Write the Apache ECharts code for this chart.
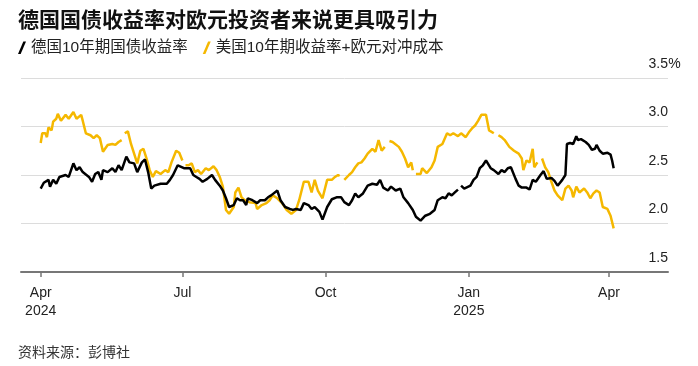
<!DOCTYPE html>
<html><head><meta charset="utf-8">
<script src="https://cdn.jsdelivr.net/npm/echarts@6/dist/echarts.min.js"></script>
<style>html,body{margin:0;padding:0;background:#fff}#c{width:698px;height:366px}</style>
</head><body><div id="c"></div>
<script>
const chartTitle = '德国国债收益率对欧元投资者来说更具吸引力';
const sourceText = '资料来源：彭博社';
const seriesNames = ['德国10年期国债收益率', '美国10年期收益率+欧元对冲成本'];

const germanDates = ['2024-04-01','2024-04-03','2024-04-06','2024-04-07','2024-04-09','2024-04-11','2024-04-13','2024-04-17','2024-04-19','2024-04-22','2024-04-24','2024-04-26','2024-04-28','2024-05-02','2024-05-04','2024-05-06','2024-05-08','2024-05-10','2024-05-11','2024-05-14','2024-05-17','2024-05-19','2024-05-21','2024-05-23','2024-05-26','2024-05-28','2024-05-31','2024-06-02','2024-06-05','2024-06-07','2024-06-09','2024-06-11','2024-06-13','2024-06-17','2024-06-21','2024-06-23','2024-06-25','2024-06-28','2024-07-02','2024-07-04','2024-07-06','2024-07-08','2024-07-10','2024-07-12','2024-07-14','2024-07-17','2024-07-20','2024-07-22','2024-07-25','2024-07-27','2024-07-29','2024-07-31','2024-08-03','2024-08-05','2024-08-07','2024-08-09','2024-08-11','2024-08-12','2024-08-15','2024-08-18','2024-08-20','2024-08-23','2024-08-25','2024-08-27','2024-08-31','2024-09-02','2024-09-05','2024-09-08','2024-09-10','2024-09-12','2024-09-15','2024-09-17','2024-09-20','2024-09-22','2024-09-24','2024-09-27','2024-09-29','2024-10-02','2024-10-05','2024-10-08','2024-10-11','2024-10-13','2024-10-16','2024-10-18','2024-10-20','2024-10-22','2024-10-25','2024-10-28','2024-10-31','2024-11-03','2024-11-05','2024-11-07','2024-11-10','2024-11-12','2024-11-15','2024-11-18','2024-11-20','2024-11-23','2024-11-26','2024-11-28','2024-12-01','2024-12-04','2024-12-07','2024-12-10','2024-12-12','2024-12-15','2024-12-17','2024-12-19','2024-12-21','2024-12-23','2024-12-25','2024-12-26','2024-12-27','2024-12-29','2025-01-02','2025-01-04','2025-01-06','2025-01-08','2025-01-10','2025-01-12','2025-01-15','2025-01-17','2025-01-20','2025-01-22','2025-01-24','2025-01-26','2025-01-28','2025-01-31','2025-02-02','2025-02-04','2025-02-07','2025-02-09','2025-02-11','2025-02-13','2025-02-16','2025-02-18','2025-02-20','2025-02-23','2025-02-25','2025-02-27','2025-03-02','2025-03-04','2025-03-05','2025-03-07','2025-03-09','2025-03-11','2025-03-12','2025-03-14','2025-03-17','2025-03-19','2025-03-21','2025-03-23','2025-03-24','2025-03-26','2025-03-28','2025-03-31','2025-04-02','2025-04-03','2025-04-04'];
const germanYields = [2.36,2.42,2.45,2.38,2.45,2.41,2.48,2.50,2.48,2.62,2.55,2.58,2.53,2.48,2.43,2.51,2.53,2.45,2.55,2.53,2.57,2.53,2.60,2.55,2.69,2.63,2.62,2.53,2.63,2.66,2.53,2.36,2.39,2.41,2.41,2.45,2.50,2.60,2.57,2.57,2.57,2.50,2.48,2.46,2.43,2.46,2.50,2.45,2.39,2.34,2.26,2.17,2.19,2.26,2.24,2.24,2.19,2.26,2.24,2.21,2.24,2.24,2.27,2.29,2.34,2.24,2.17,2.15,2.14,2.15,2.14,2.21,2.19,2.15,2.17,2.12,2.04,2.17,2.25,2.27,2.27,2.22,2.19,2.24,2.31,2.27,2.31,2.39,2.41,2.40,2.45,2.37,2.34,2.38,2.34,2.36,2.27,2.21,2.14,2.07,2.03,2.08,2.10,2.14,2.24,2.27,2.26,2.31,2.29,2.32,2.35,null,2.39,2.36,2.39,2.45,2.48,2.57,2.60,2.65,2.57,2.55,2.51,2.55,2.53,2.57,2.58,2.46,2.39,2.37,2.37,2.35,2.45,2.43,2.50,2.54,2.46,2.47,2.44,2.39,2.45,2.50,2.82,2.83,2.82,2.90,2.86,2.87,2.84,2.81,2.76,2.77,2.81,2.75,2.72,2.73,2.71,2.65,2.57];

const usDates = ['2024-04-01','2024-04-02','2024-04-04','2024-04-05','2024-04-06','2024-04-08','2024-04-09','2024-04-11','2024-04-12','2024-04-14','2024-04-17','2024-04-19','2024-04-22','2024-04-24','2024-04-27','2024-04-28','2024-04-30','2024-05-03','2024-05-05','2024-05-07','2024-05-09','2024-05-11','2024-05-14','2024-05-17','2024-05-19','2024-05-21','2024-05-23','2024-05-24','2024-05-25','2024-05-27','2024-05-29','2024-05-31','2024-06-02','2024-06-04','2024-06-06','2024-06-08','2024-06-10','2024-06-12','2024-06-14','2024-06-17','2024-06-20','2024-06-22','2024-06-24','2024-06-27','2024-06-29','2024-07-01','2024-07-02','2024-07-03','2024-07-05','2024-07-07','2024-07-09','2024-07-11','2024-07-13','2024-07-16','2024-07-18','2024-07-21','2024-07-23','2024-07-25','2024-07-27','2024-07-29','2024-07-31','2024-08-03','2024-08-04','2024-08-06','2024-08-08','2024-08-10','2024-08-13','2024-08-17','2024-08-18','2024-08-21','2024-08-24','2024-08-26','2024-08-28','2024-08-31','2024-09-03','2024-09-06','2024-09-09','2024-09-12','2024-09-14','2024-09-17','2024-09-20','2024-09-22','2024-09-24','2024-09-26','2024-09-29','2024-10-02','2024-10-05','2024-10-07','2024-10-09','2024-10-10','2024-10-12','2024-10-13','2024-10-16','2024-10-18','2024-10-20','2024-10-22','2024-10-24','2024-10-26','2024-10-28','2024-10-31','2024-11-02','2024-11-04','2024-11-06','2024-11-08','2024-11-10','2024-11-11','2024-11-13','2024-11-17','2024-11-19','2024-11-21','2024-11-23','2024-11-25','2024-11-26','2024-11-27','2024-11-28','2024-12-01','2024-12-02','2024-12-05','2024-12-08','2024-12-10','2024-12-12','2024-12-15','2024-12-18','2024-12-20','2024-12-22','2024-12-25','2024-12-27','2024-12-30','2025-01-01','2025-01-03','2025-01-05','2025-01-07','2025-01-09','2025-01-12','2025-01-14','2025-01-17','2025-01-19','2025-01-20','2025-01-22','2025-01-24','2025-01-27','2025-01-30','2025-02-02','2025-02-04','2025-02-05','2025-02-07','2025-02-09','2025-02-11','2025-02-12','2025-02-14','2025-02-16','2025-02-17','2025-02-19','2025-02-21','2025-02-23','2025-02-25','2025-02-27','2025-03-02','2025-03-04','2025-03-06','2025-03-08','2025-03-09','2025-03-11','2025-03-13','2025-03-16','2025-03-18','2025-03-20','2025-03-22','2025-03-24','2025-03-26','2025-03-28','2025-03-31','2025-04-02','2025-04-04'];
const usHedgedYields = [2.83,2.93,2.93,2.89,2.99,2.96,3.05,3.08,3.13,3.06,3.12,3.08,3.15,3.08,3.12,3.06,2.93,2.91,2.88,2.91,2.88,2.74,2.81,2.82,2.81,2.84,2.86,null,2.93,2.95,2.82,2.72,2.62,2.75,2.77,2.67,2.55,2.48,2.54,2.51,2.55,2.53,2.63,2.75,2.73,2.65,null,2.60,2.60,2.62,2.53,2.55,2.51,2.57,2.55,2.59,2.55,2.48,2.38,2.14,2.10,2.17,2.32,2.37,2.27,2.24,2.22,2.21,2.15,2.19,2.21,2.24,2.29,2.26,2.21,2.14,2.10,2.14,2.24,2.43,2.43,2.32,2.45,2.34,2.26,2.45,2.45,2.48,2.50,2.49,null,2.45,2.50,2.53,2.58,2.62,2.63,2.67,2.72,2.77,2.74,2.86,2.75,2.79,null,2.85,2.84,2.79,2.74,2.67,2.58,2.63,2.55,null,2.51,2.51,2.57,2.52,2.58,2.65,2.79,2.82,2.93,2.91,2.93,2.90,2.93,2.89,2.94,2.98,3.01,3.06,3.12,3.12,2.96,2.93,null,2.91,2.89,2.86,2.79,2.75,2.72,2.67,2.55,2.65,2.63,2.77,2.58,2.63,null,2.67,2.58,2.53,2.43,2.34,2.29,2.24,2.36,2.39,2.34,2.27,2.38,2.32,2.36,2.32,2.26,2.31,2.34,2.32,2.17,2.15,2.08,1.95];

const xTickDates = ['2024-04-01','2024-07-01','2024-10-01','2025-01-01','2025-04-01'];
const xTickLabels = ['Apr\n2024','Jul','Oct','Jan\n2025','Apr'];
const yTickValues = [1.5, 2.0, 2.5, 3.0, 3.5];

const DAY = 86400000;
function toTime(s) { const p = s.split('-').map(Number); return new Date(p[0], p[1] - 1, p[2]).getTime(); }
const tickTimes = xTickDates.map(toTime);
const base = tickTimes[0];
const FONT = "'Liberation Sans', 'Noto Sans CJK SC', sans-serif";
const SLASH = 'path://M6,0 L9,0 L3,14 L0,14 Z';

const chart = echarts.init(document.getElementById('c'), null, { renderer: 'canvas' });
chart.setOption({
  animation: false,
  backgroundColor: '#fff',
  title: [
    { text: chartTitle, left: 13, top: 6, textStyle: { fontFamily: FONT, fontSize: 21, fontWeight: 'bold', color: '#111' } },
    { text: sourceText, left: 13, top: 341, textStyle: { fontFamily: FONT, fontSize: 14, fontWeight: 'normal', color: '#333' } }
  ],
  legend: {
    left: 13, top: 35, itemWidth: 8, itemHeight: 14, itemGap: 15,
    textStyle: { fontFamily: FONT, fontSize: 15.5, color: '#222' },
    data: [{ name: seriesNames[0], icon: SLASH }, { name: seriesNames[1], icon: SLASH }]
  },
  grid: { left: 21, right: 30, top: 78, bottom: 94 },
  xAxis: {
    type: 'value',
    min: base - 12.65 * DAY,
    max: base + 402.9 * DAY,
    axisLine: { lineStyle: { color: '#777', width: 2 } },
    axisTick: { customValues: tickTimes, length: 5, lineStyle: { color: '#777', width: 1.5 } },
    axisLabel: {
      customValues: tickTimes,
      formatter: function (v) { const i = tickTimes.indexOf(v); return i >= 0 ? xTickLabels[i] : ''; },
      fontFamily: FONT, fontSize: 14, color: '#222', lineHeight: 18, margin: 12, hideOverlap: false,
      showMinLabel: true, showMaxLabel: true
    },
    splitLine: { show: false }
  },
  yAxis: {
    type: 'value', position: 'right', min: yTickValues[0], max: yTickValues[yTickValues.length - 1], interval: 0.5,
    axisLine: { show: false }, axisTick: { show: false },
    splitLine: { lineStyle: { color: '#dcdcdc', width: 1 } },
    axisLabel: {
      inside: true, margin: -13, verticalAlign: 'bottom', padding: [0, 0, 7, 0],
      fontFamily: FONT, fontSize: 14, color: '#222',
      formatter: function (v) { return '{n|' + v.toFixed(1) + '}{p|' + (v === 3.5 ? '%' : '') + '}'; },
      rich: {
        n: { fontFamily: FONT, fontSize: 14, color: '#222' },
        p: { fontFamily: FONT, fontSize: 14, color: '#222', width: 13, align: 'left' }
      }
    }
  },
  series: [
    {
      name: seriesNames[1], type: 'line', showSymbol: false, connectNulls: false,
      data: usDates.map((d, i) => [toTime(d), usHedgedYields[i]]),
      lineStyle: { color: '#f5b800', width: 2.5 }, itemStyle: { color: '#f5b800' }
    },
    {
      name: seriesNames[0], type: 'line', showSymbol: false, connectNulls: false,
      data: germanDates.map((d, i) => [toTime(d), germanYields[i]]),
      lineStyle: { color: '#000', width: 2.5 }, itemStyle: { color: '#000' }
    }
  ]
});
</script>
</body></html>
